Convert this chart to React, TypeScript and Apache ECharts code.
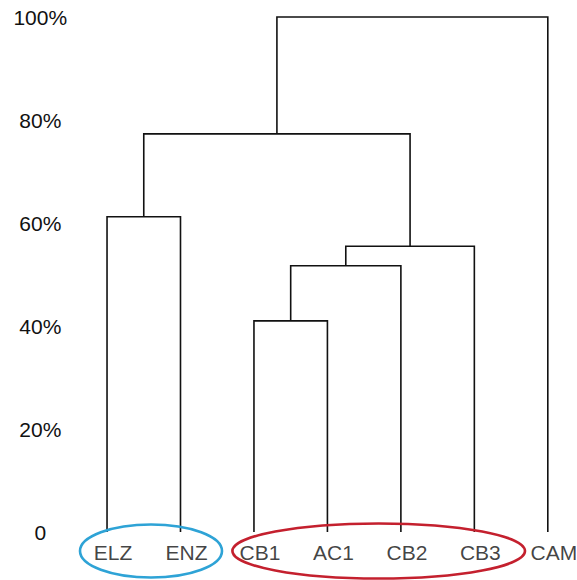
import React, { useEffect, useRef } from "react";
import * as echarts from "echarts";

// Leaves of the dendrogram (left to right)
const leaves = ["ELZ", "ENZ", "CB1", "AC1", "CB2", "CB3", "CAM"];
// Merges: child references ("L<i>" = leaf i, "N<j>" = merge j) and merge heights (%)
const mergeLeft = ["L0", "L2", "N1", "N2", "N0", "N4"];
const mergeRight = ["L1", "L3", "L4", "L5", "N3", "L6"];
const mergeHeights = [61.2, 41.0, 51.7, 55.5, 77.3, 100];
// Y-axis tick labels
const yTicks = [0, 20, 40, 60, 80, 100];
const yTickLabels = ["0", "20%", "40%", "60%", "80%", "100%"];

function buildSegments() {
  const nodeX: number[] = [];
  const nodeH: number[] = [];
  const pos = (ref: string): [number, number] => {
    const idx = parseInt(ref.slice(1), 10);
    if (ref[0] === "L") return [idx, 0];
    return [nodeX[idx], nodeH[idx]];
  };
  const segs: number[][] = [];
  for (let j = 0; j < mergeHeights.length; j++) {
    const [xl, hl] = pos(mergeLeft[j]);
    const [xr, hr] = pos(mergeRight[j]);
    const hm = mergeHeights[j];
    segs.push([xl, xr, hl, hr, hm]);
    nodeX[j] = (xl + xr) / 2;
    nodeH[j] = hm;
  }
  return segs;
}

export default function App() {
  const ref = useRef<HTMLDivElement>(null);
  useEffect(() => {
    if (!ref.current) return;
    const chart = echarts.init(ref.current, null, { renderer: "svg" });
    const segs = buildSegments();
    const font = "'Liberation Sans', Arial, sans-serif";
    chart.setOption({
      animation: false,
      backgroundColor: "#ffffff",
      grid: { left: 70.3, right: 14.5, top: 17, bottom: 48 },
      xAxis: { type: "value", min: -0.5, max: 6.2, show: false },
      yAxis: {
        type: "value",
        min: 0,
        max: 100,
        interval: 20,
        axisLine: { show: false },
        axisTick: { show: false },
        splitLine: { show: false },
        axisLabel: {
          margin: 30,
          align: "center",
          color: "#111111",
          fontSize: 21,
          fontFamily: font,
          formatter: (v: number) => {
            const i = yTicks.indexOf(v);
            return i >= 0 ? yTickLabels[i] : "";
          },
        },
      },
      series: [
        {
          type: "custom",
          coordinateSystem: "cartesian2d",
          data: segs,
          silent: true,
          clip: false,
          renderItem: (params: any, api: any) => {
            const xl = api.value(0), xr = api.value(1);
            const hl = api.value(2), hr = api.value(3), hm = api.value(4);
            const p1 = api.coord([xl, hl]);
            const p2 = api.coord([xl, hm]);
            const p3 = api.coord([xr, hm]);
            const p4 = api.coord([xr, hr]);
            return {
              type: "polyline",
              shape: { points: [p1, p2, p3, p4] },
              style: { stroke: "#111111", lineWidth: 1.6, fill: "none" },
            };
          },
          encode: { x: [0, 1], y: [2, 3, 4] },
        },
        {
          type: "scatter",
          data: leaves.map((_, i) => [i, 0]),
          symbolSize: 0,
          silent: true,
          clip: false,
          label: {
            show: true,
            position: "bottom",
            distance: 10,
            offset: [6, 0],
            color: "#111111",
            fontSize: 21,
            fontFamily: font,
            formatter: (p: any) => leaves[p.dataIndex],
          },
        },
      ],
      graphic: [
        {
          type: "ellipse",
          shape: { cx: 151, cy: 551, rx: 71, ry: 26.5 },
          style: { fill: "none", stroke: "#2ea3d6", lineWidth: 2.6 },
          z: 100,
        },
        {
          type: "ellipse",
          shape: { cx: 378.7, cy: 551, rx: 146.3, ry: 27.5 },
          style: { fill: "none", stroke: "#c4202e", lineWidth: 2.6 },
          z: 100,
        },
      ],
    });
    return () => chart.dispose();
  }, []);
  return (
    <div
      ref={ref}
      style={{ position: "absolute", left: 0, top: 0, width: 577, height: 580 }}
    />
  );
}
